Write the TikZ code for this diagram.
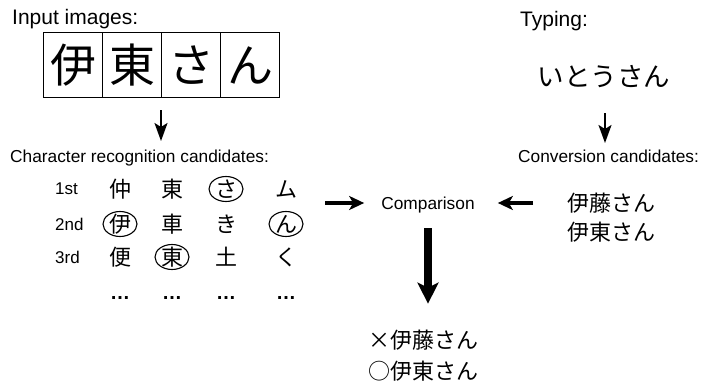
\documentclass[tikz,border=0pt]{standalone}
\usepackage{fontspec}
\setmainfont{Liberation Sans}
\newfontfamily\cjk{Noto Sans CJK JP}
\usetikzlibrary{arrows.meta,shapes.geometric}
\begin{document}
\begin{tikzpicture}[x=1pt,y=-1pt,
  hdr/.style={inner sep=0pt,anchor=base west,font=\fontsize{21}{24}\selectfont},
  sub/.style={inner sep=0pt,anchor=base west,font=\fontsize{17.3}{20}\selectfont},
  rowlbl/.style={inner sep=0pt,anchor=west,font=\fontsize{17}{18}\selectfont},
  cand/.style={inner sep=0pt,font=\cjk\fontsize{22}{24}\selectfont},
  dotsn/.style={inner sep=0pt,anchor=base,font=\bfseries\fontsize{20}{22}\selectfont},
  hand/.style={inner sep=0pt,font=\cjk\fontsize{46}{48}\selectfont},
  cjkline/.style={inner sep=0pt,font=\cjk\fontsize{22}{24}\selectfont},
  ring/.style={draw,line width=1.1pt,ellipse,minimum width=34pt,minimum height=25pt,inner sep=0pt},
  frame/.style={draw,line width=1pt},
  smallarrow/.style={line width=2pt,-{Stealth[length=18pt,width=13pt,inset=4pt]}},
  medarrow/.style={line width=3.8pt,-{Stealth[length=15pt,width=14pt,inset=4pt]}},
  bigarrow/.style={line width=7.5pt,-{Stealth[length=21pt,width=21pt,inset=5pt]}}
]
\useasboundingbox (0,0) rectangle (701,388);

% Input images
\node[hdr] (inlbl) at (12,24) {Input images:};
\foreach \i/\c in {0/伊,1/東,2/さ,3/ん}{
  \node[frame,minimum width=59pt,minimum height=65pt,anchor=north west,inner sep=0pt] (box\i) at (43+59*\i,32) {};
  \node[hand] (h\i) at (box\i.center) {\c};
}
\coordinate (a1s) at (161,110);
\coordinate (a1e) at (161,141);
\draw[smallarrow] (a1s) -- (a1e);

% Character recognition candidates
\node[sub] (crlbl) at (10,162) {Character recognition candidates:};
\node[rowlbl] (r1) at (55,189) {1st};
\node[rowlbl] (r2) at (55,224) {2nd};
\node[rowlbl] (r3) at (55,257) {3rd};

\node[cand] (c11) at (120,189) {仲};
\node[cand] (c12) at (172,189) {東};
\node[cand] (c13) at (226,189) {さ};
\node[cand] (c14) at (286,189) {ム};
\node[cand] (c21) at (120,224) {伊};
\node[cand] (c22) at (172,224) {車};
\node[cand] (c23) at (226,224) {き};
\node[cand] (c24) at (286,224) {ん};
\node[cand] (c31) at (120,257) {便};
\node[cand] (c32) at (172,257) {東};
\node[cand] (c33) at (226,257) {土};
\node[cand] (c34) at (286,257) {く};
\foreach \x/\n in {120/1,172/2,226/3,286/4}{
  \node[dotsn] (d\n) at (\x,299.5) {…};
}
\node[ring] (o1) at (c13) {};
\node[ring] (o2) at (c21) {};
\node[ring] (o3) at (c24) {};
\node[ring] (o4) at (c32) {};

% Typing side
\node[hdr] (typ) at (520,27) {Typing:};
\node[cjkline,font=\cjk\fontsize{26.5}{28}\selectfont] (kana) at (604,77) {いとうさん};
\coordinate (a2s) at (605,113);
\coordinate (a2e) at (605,143);
\draw[smallarrow] (a2s) -- (a2e);
\node[sub] (cvlbl) at (518,162) {Conversion candidates:};
\node[cjkline] (cv1) at (611,203) {伊藤さん};
\node[cjkline] (cv2) at (611,232) {伊東さん};

% Comparison
\node[inner sep=0pt,anchor=base,font=\fontsize{17.3}{20}\selectfont] (comp) at (428,209) {Comparison};
\coordinate (m1) at (325,203);
\draw[medarrow] (m1) -- ([xshift=-17pt]comp.west |- m1);
\coordinate (m2) at (533,203);
\draw[medarrow] (m2) -- ([xshift=23pt]comp.east |- m2);

\node[cjkline] (res1) at (423,340) {×伊藤さん};
\node[cjkline] (res2) at (423,371) {○伊東さん};
\coordinate (b1) at (428,228);
\draw[bigarrow] (b1) -- ([yshift=26pt]res1.north -| b1);
\end{tikzpicture}
\end{document}
